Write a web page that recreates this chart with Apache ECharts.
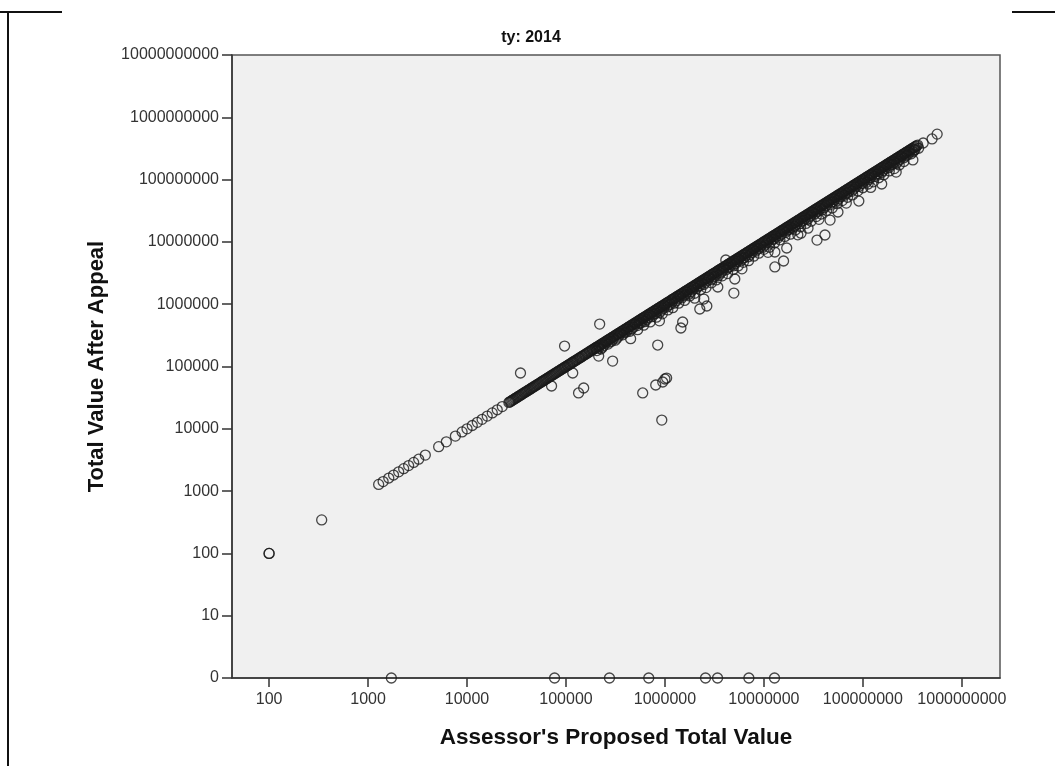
<!DOCTYPE html>
<html>
<head>
<meta charset="utf-8">
<script src="https://cdn.jsdelivr.net/npm/echarts@6/dist/echarts.min.js"></script>
<style>
  html, body { margin: 0; padding: 0; background: #fff; }
  #chart { width: 1055px; height: 766px; }
</style>
</head>
<body>
<div id="chart"></div>
<script>
// Tick values for both log axes
const xTicks = [100, 1000, 10000, 100000, 1000000, 10000000, 100000000, 1000000000];
const yTicks = [1, 10, 100, 1000, 10000, 100000, 1000000, 10000000, 100000000, 1000000000, 10000000000];

// Parcels whose value after appeal equals the assessor's proposal
const unchangedValues = [
  1280, 1420, 1620, 1810, 2040, 2290, 2570, 2890, 3250, 3790, 5170, 6180, 7630, 8920,
  10000, 11300, 12700, 14200, 16000, 18000, 20200, 22700,
  2.65e4,2.71e4,2.78e4,2.85e4,2.92e4,2.99e4,3.07e4,3.14e4,3.22e4,3.30e4,3.38e4,3.47e4,3.56e4,3.64e4,
  3.74e4,3.83e4,3.92e4,4.02e4,4.12e4,4.23e4,4.33e4,4.44e4,4.55e4,4.67e4,4.78e4,4.90e4,5.03e4,5.15e4,
  5.28e4,5.41e4,5.55e4,5.69e4,5.83e4,5.97e4,6.12e4,6.28e4,6.43e4,6.59e4,6.76e4,6.93e4,7.10e4,7.28e4,
  7.46e4,7.65e4,7.84e4,8.03e4,8.23e4,8.44e4,8.65e4,8.87e4,9.09e4,9.31e4,9.55e4,9.78e4,
  1.00e5,1.03e5,1.05e5,1.08e5,1.10e5,1.13e5,1.16e5,1.18e5,1.21e5,1.24e5,1.27e5,1.30e5,1.34e5,1.37e5,
  1.40e5,1.44e5,1.47e5,1.51e5,1.55e5,1.58e5,1.62e5,1.66e5,1.71e5,1.75e5,1.79e5,1.84e5,1.88e5,1.93e5,
  1.98e5,2.02e5,2.07e5,2.13e5,2.18e5,2.23e5,2.29e5,2.34e5,2.40e5,2.46e5,2.52e5,2.59e5,2.65e5,2.72e5,
  2.78e5,2.85e5,2.92e5,3.00e5,3.07e5,3.15e5,3.23e5,3.31e5,3.39e5,3.47e5,3.56e5,3.65e5,3.74e5,3.83e5,
  3.93e5,4.03e5,4.13e5,4.23e5,4.34e5,4.45e5,4.56e5,4.67e5,4.79e5,4.91e5,5.03e5,5.16e5,5.29e5,5.42e5,
  5.55e5,5.69e5,5.84e5,5.98e5,6.13e5,6.28e5,6.44e5,6.60e5,6.77e5,6.94e5,7.11e5,7.29e5,7.47e5,7.66e5,
  7.85e5,8.05e5,8.25e5,8.45e5,8.67e5,8.88e5,9.10e5,9.33e5,9.57e5,9.81e5,
  1.01e6,1.03e6,1.06e6,1.08e6,1.11e6,1.14e6,1.17e6,1.19e6,1.22e6,1.25e6,1.28e6,1.32e6,1.35e6,1.38e6,
  1.42e6,1.45e6,1.49e6,1.52e6,1.56e6,1.60e6,1.64e6,1.68e6,1.72e6,1.77e6,1.81e6,1.86e6,1.90e6,1.95e6,
  2.00e6,2.05e6,2.10e6,2.15e6,2.21e6,2.26e6,2.32e6,2.38e6,2.44e6,2.50e6,2.56e6,2.62e6,2.69e6,2.76e6,
  2.82e6,2.90e6,2.97e6,3.04e6,3.12e6,3.19e6,3.27e6,3.36e6,3.44e6,3.53e6,3.61e6,3.70e6,3.80e6,3.89e6,
  3.99e6,4.09e6,4.19e6,4.30e6,4.40e6,4.51e6,4.63e6,4.74e6,4.86e6,4.98e6,5.11e6,5.24e6,5.37e6,5.50e6,
  5.64e6,5.78e6,5.93e6,6.07e6,6.22e6,6.38e6,6.54e6,6.70e6,6.87e6,7.04e6,7.22e6,7.40e6,7.58e6,7.77e6,
  7.97e6,8.17e6,8.37e6,8.58e6,8.80e6,9.02e6,9.24e6,9.47e6,9.71e6,9.95e6,
  1.02e7,1.04e7,1.07e7,1.10e7,1.12e7,1.15e7,1.18e7,1.21e7,1.24e7,1.27e7,1.30e7,1.33e7,1.37e7,1.40e7,
  1.44e7,1.47e7,1.51e7,1.55e7,1.59e7,1.63e7,1.67e7,1.71e7,1.75e7,1.79e7,1.84e7,1.89e7,1.93e7,1.98e7,
  2.03e7,2.08e7,2.13e7,2.19e7,2.24e7,2.30e7,2.36e7,2.42e7,2.48e7,2.54e7,2.60e7,2.67e7,2.73e7,2.80e7,
  2.87e7,2.94e7,3.02e7,3.09e7,3.17e7,3.25e7,3.33e7,3.41e7,3.50e7,3.59e7,3.68e7,3.77e7,3.86e7,3.96e7,
  4.06e7,4.16e7,4.27e7,4.37e7,4.48e7,4.59e7,4.71e7,4.83e7,4.95e7,5.07e7,5.20e7,5.33e7,5.46e7,5.60e7,
  5.74e7,5.88e7,6.03e7,6.18e7,6.34e7,6.49e7,6.66e7,6.82e7,6.99e7,7.17e7,7.35e7,7.53e7,7.72e7,7.91e7,
  8.11e7,8.31e7,8.52e7,8.74e7,8.95e7,9.18e7,9.41e7,9.64e7,9.88e7,
  1.01e8,1.04e8,1.06e8,1.09e8,1.12e8,1.15e8,1.17e8,1.20e8,1.23e8,1.26e8,1.30e8,1.33e8,1.36e8,1.40e8,
  1.43e8,1.47e8,1.51e8,1.54e8,1.58e8,1.62e8,1.66e8,1.70e8,1.75e8,1.79e8,1.83e8,1.88e8,1.93e8,1.98e8,
  2.03e8,2.08e8,2.13e8,2.18e8,2.24e8,2.29e8,2.35e8,2.41e8,2.47e8,2.53e8,2.59e8,2.66e8,2.73e8,2.79e8,
  2.86e8,2.94e8,3.01e8,3.09e8,3.16e8,3.24e8,3.32e8,3.41e8,3.49e8,3.58e8
];

// Small reductions on appeal: [proposed, after appeal]
const smallReductions = [
  [205000, 180000], [225000, 191000], [243000, 219000], [266000, 229000], [290000, 255000],
  [315000, 265000], [342000, 308000], [374000, 322000], [408000, 359000], [443000, 368000],
  [483000, 430000], [527000, 453000], [575000, 506000], [625000, 525000], [682000, 614000],
  [742000, 631000], [810000, 713000], [882000, 732000], [960000, 854000], [1050000, 903000],
  [1140000, 1000000], [1240000, 1040000], [1360000, 1220000], [1480000, 1260000],
  [1610000, 1420000], [1750000, 1450000], [1910000, 1700000], [2080000, 1790000],
  [2270000, 2000000], [2470000, 2070000], [2700000, 2430000], [2940000, 2500000],
  [3200000, 2820000], [3490000, 2900000], [3800000, 3380000], [4150000, 3570000],
  [4520000, 3980000], [4920000, 4130000], [5370000, 4830000], [5850000, 4970000],
  [6380000, 5610000], [6950000, 5770000], [7580000, 6750000], [8260000, 7100000],
  [9000000, 7920000], [9800000, 8230000], [10700000, 9630000], [11700000, 9950000],
  [12700000, 11200000], [13800000, 11500000], [15100000, 13400000], [16500000, 14200000],
  [17900000, 15800000], [19500000, 16400000], [21300000, 19200000], [23200000, 19700000],
  [25300000, 22300000], [27600000, 22900000], [30000000, 26700000], [32700000, 28100000],
  [35700000, 31400000], [38900000, 32700000], [42400000, 38200000], [46200000, 39300000],
  [50400000, 44400000], [54900000, 45600000], [59800000, 53200000], [65200000, 56100000],
  [71100000, 62600000], [77500000, 65100000], [84500000, 76100000], [92000000, 78200000],
  [100000000, 88000000], [109000000, 90500000], [119000000, 106000000], [130000000, 112000000],
  [142000000, 125000000], [155000000, 130000000], [169000000, 152000000], [184000000, 156000000],
  [200000000, 176000000], [218000000, 181000000], [238000000, 212000000], [260000000, 224000000],
  [283000000, 249000000], [308000000, 259000000], [336000000, 302000000], [366000000, 318000000],
  [2.15e5,1.98e5],[2.34e5,2.04e5],[2.55e5,2.40e5],[2.78e5,2.47e5],[3.02e5,2.78e5],[3.28e5,2.85e5],
  [3.58e5,3.37e5],[3.90e5,3.47e5],[4.25e5,3.91e5],[4.63e5,4.03e5],[5.05e5,4.75e5],[5.50e5,4.90e5],
  [6.00e5,5.52e5],[6.53e5,5.68e5],[7.12e5,6.69e5],[7.76e5,6.91e5],[8.45e5,7.77e5],[9.20e5,8.00e5],
  [1.00e6,9.40e5],[1.09e6,9.70e5],[1.19e6,1.09e6],[1.30e6,1.13e6],[1.42e6,1.33e6],[1.54e6,1.37e6],
  [1.68e6,1.55e6],[1.83e6,1.59e6],[1.99e6,1.87e6],[2.17e6,1.93e6],[2.37e6,2.18e6],[2.58e6,2.24e6],
  [2.82e6,2.65e6],[3.07e6,2.73e6],[3.35e6,3.08e6],[3.65e6,3.18e6],[3.97e6,3.73e6],[4.33e6,3.85e6],
  [4.72e6,4.34e6],[5.14e6,4.47e6],[5.60e6,5.26e6],[6.11e6,5.44e6],[6.66e6,6.13e6],[7.26e6,6.32e6],
  [7.91e6,7.44e6],[8.62e6,7.67e6],[9.40e6,8.65e6],[1.02e7,8.87e6],[1.12e7,1.05e7],[1.22e7,1.09e7],
  [1.33e7,1.22e7],[1.45e7,1.26e7],[1.58e7,1.49e7],[1.72e7,1.53e7],[1.87e7,1.72e7],[2.04e7,1.77e7],
  [2.22e7,2.09e7],[2.42e7,2.15e7],[2.64e7,2.43e7],[2.88e7,2.51e7],[3.14e7,2.95e7],[3.42e7,3.04e7],
  [3.73e7,3.43e7],[4.06e7,3.53e7],[4.43e7,4.16e7],[4.83e7,4.30e7],[5.26e7,4.84e7],[5.73e7,4.99e7],
  [6.25e7,5.88e7],[6.81e7,6.06e7],[7.42e7,6.83e7],[8.09e7,7.04e7],[8.82e7,8.29e7],[9.60e7,8.54e7],
  [1.05e8,9.66e7],[1.14e8,9.92e7],[1.24e8,1.17e8],[1.36e8,1.21e8],[1.48e8,1.36e8],[1.61e8,1.40e8],
  [1.76e8,1.65e8],[1.92e8,1.71e8],[2.09e8,1.92e8],[2.28e8,1.98e8],[2.48e8,2.33e8],[2.71e8,2.41e8],
  [2.95e8,2.71e8],[3.22e8,2.80e8]
];

// Larger reductions along the lower edge of the band
const largerReductions = [
  [530000, 390000], [710000, 520000], [940000, 700000], [1200000, 880000], [1580000, 1150000],
  [2000000, 1500000], [2600000, 1850000], [3300000, 2450000], [4300000, 3100000],
  [5500000, 4100000], [7000000, 5000000], [8900000, 6600000], [11400000, 8200000],
  [14500000, 10800000], [18500000, 13300000], [23500000, 17500000], [30000000, 21500000],
  [38000000, 28000000], [49000000, 35000000], [62000000, 46000000], [79000000, 57000000],
  [100000000, 74000000], [128000000, 92000000], [163000000, 120000000], [208000000, 150000000],
  [260000000, 195000000],
  [6.1e5,4.6e5],[8.2e5,6.2e5],[1.07e6,8.1e5],[1.38e6,1.04e6],[1.78e6,1.36e6],[2.3e6,1.72e6],
  [2.95e6,2.2e6],[3.8e6,2.85e6],[4.9e6,3.6e6],[6.2e6,4.7e6],[7.9e6,5.9e6],[1.0e7,7.6e6],
  [1.28e7,9.6e6],[1.63e7,1.22e7],[2.08e7,1.55e7],[2.66e7,1.98e7],[3.38e7,2.55e7],[4.3e7,3.2e7],
  [5.5e7,4.1e7],[7.0e7,5.2e7],[8.9e7,6.6e7],[1.13e8,8.5e7],[1.45e8,1.07e8],[1.85e8,1.38e8],
  [2.33e8,1.72e8],
  [4.5e5,2.8e5],[8.8e5,5.4e5],[2.0e6,1.25e6],[6.0e6,3.7e6],[1.1e7,6.8e6],[2.2e7,1.3e7],
  [3.6e7,2.3e7],[6.8e7,4.2e7],[1.2e8,7.5e7]
];

// Isolated parcels away from the band
const isolatedPoints = [
  [100, 100], [100, 100], [340, 345],
  [34700, 78700], [96800, 213000], [219000, 480000], [71500, 48600], [117000, 78700],
  [134000, 37600], [151000, 45200], [214000, 147000], [296000, 122000], [845000, 221000],
  [596000, 37600], [807000, 50500], [950000, 56400], [1040000, 65300], [1000000, 63000],
  [929000, 13800], [1450000, 415000], [1510000, 518000], [2250000, 837000],
  [2650000, 935000], [2470000, 1210000], [4970000, 1510000], [5080000, 2540000],
  [3420000, 1890000], [4120000, 5120000], [12900000, 3960000], [15800000, 4940000],
  [12900000, 6890000], [17000000, 7980000], [34400000, 10700000], [41400000, 12900000],
  [46600000, 22400000], [56000000, 30200000], [91000000, 45300000], [27900000, 16600000],
  [23700000, 13800000], [155000000, 85000000], [217000000, 132000000], [320000000, 207000000],
  [330000000, 299000000], [407000000, 387000000], [500000000, 449000000], [563000000, 537000000]
];

// Proposals that ended with a value of 0 after appeal
const zeroAfterAppeal = [1720, 76700, 275000, 686000, 2570000, 3400000, 7050000, 12800000];

// The log scale cannot hold 0, so the bottom of the value axis (1) carries the "0" label
const ZERO_FLOOR = 1;

const points = [];
unchangedValues.forEach(v => points.push([v, v]));
smallReductions.forEach(p => points.push(p));
largerReductions.forEach(p => points.push(p));
isolatedPoints.forEach(p => points.push(p));
zeroAfterAppeal.forEach(v => points.push([v, ZERO_FLOOR]));

const tickFont = 'Liberation Sans, Arial, sans-serif';
const chart = echarts.init(document.getElementById('chart'), null, { renderer: 'canvas' });

chart.setOption({
  backgroundColor: '#ffffff',
  animation: false,
  grid: {
    left: 232, top: 55, right: 55, bottom: 88,
    show: true,
    backgroundColor: '#f0f0f0',
    borderColor: '#555',
    borderWidth: 1.5
  },
  xAxis: {
    type: 'log',
    logBase: 10,
    min: 42.2,
    max: 2.43e9,
    name: "Assessor's Proposed Total Value",
    nameLocation: 'middle',
    nameGap: 48,
    nameTextStyle: { fontFamily: tickFont, fontWeight: 'bold', fontSize: 22.5, color: '#111' },
    axisLine: { show: true, onZero: false, lineStyle: { color: '#333', width: 1.5 } },
    axisTick: { show: true, length: 9, customValues: xTicks, lineStyle: { color: '#333', width: 1.5 } },
    axisLabel: {
      customValues: xTicks, margin: 14,
      fontFamily: tickFont, fontSize: 16, color: '#333',
      formatter: v => String(Math.round(v))
    },
    splitLine: { show: false },
    minorTick: { show: false }
  },
  yAxis: {
    type: 'log',
    logBase: 10,
    min: 1,
    max: 1e10,
    name: 'Total Value After Appeal',
    nameLocation: 'middle',
    nameGap: 124,
    nameTextStyle: { fontFamily: tickFont, fontWeight: 'bold', fontSize: 22, color: '#111' },
    axisLine: { show: true, onZero: false, lineStyle: { color: '#333', width: 1.5 } },
    axisTick: { show: true, length: 10, customValues: yTicks, lineStyle: { color: '#333', width: 1.5 } },
    axisLabel: {
      customValues: yTicks, margin: 13,
      fontFamily: tickFont, fontSize: 16, color: '#333',
      formatter: v => (v <= ZERO_FLOOR ? '0' : String(Math.round(v)))
    },
    splitLine: { show: false },
    minorTick: { show: false }
  },
  graphic: [
    { type: 'text', x: 531, y: 38, style: {
      text: 'ty: 2014', align: 'center', verticalAlign: 'middle',
      font: 'bold 16px "Liberation Sans Narrow", "Liberation Sans", Arial, sans-serif', fill: '#111' } },
    { type: 'line', shape: { x1: 0, y1: 12, x2: 62, y2: 12 }, style: { stroke: '#111', lineWidth: 2 } },
    { type: 'line', shape: { x1: 8, y1: 12, x2: 8, y2: 766 }, style: { stroke: '#111', lineWidth: 2 } },
    { type: 'line', shape: { x1: 1012, y1: 12, x2: 1055, y2: 12 }, style: { stroke: '#111', lineWidth: 2 } }
  ],
  series: [{
    type: 'scatter',
    data: points,
    symbol: 'circle',
    symbolSize: 10,
    clip: true,
    large: false,
    itemStyle: { color: 'rgba(0,0,0,0)', borderColor: '#1a1a1a', borderWidth: 1.3 },
    emphasis: { disabled: true }
  }]
});
</script>
</body>
</html>
